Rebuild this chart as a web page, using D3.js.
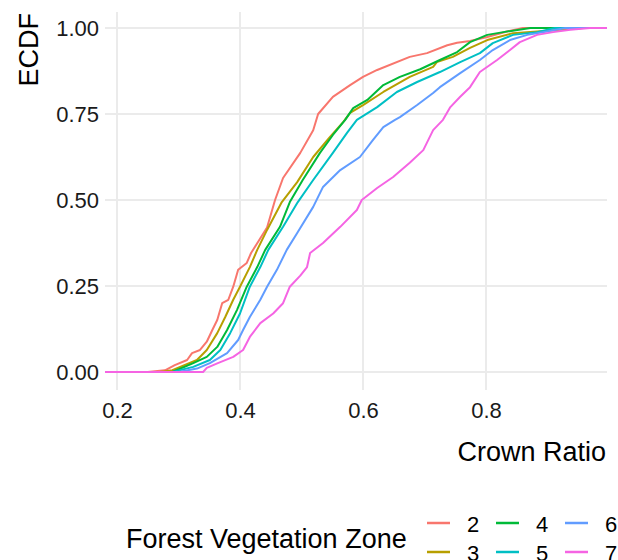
<!DOCTYPE html>
<html>
<head>
<meta charset="utf-8">
<script src="https://cdn.jsdelivr.net/npm/d3@7"></script>
<style>
  body { margin: 0; background: #fff; }
  svg { display: block; font-family: "Liberation Sans", Arial, sans-serif; }
</style>
</head>
<body>
<div id="chart"></div>
<script>
// ECDF of crown ratio by forest vegetation zone
// each series: [crown ratio, ecdf] knots

const zones = ['2', '3', '4', '5', '6', '7'];
const zoneColors = ['#F8766D', '#B79F00', '#00BA38', '#00BFC4', '#619CFF', '#F564E3'];

const zone2 = [[0.25, 0], [0.278, 0.005], [0.294, 0.02], [0.314, 0.035], [0.322, 0.055], [0.335, 0.064],
  [0.346, 0.088], [0.355, 0.122], [0.363, 0.151], [0.371, 0.2], [0.381, 0.21], [0.389, 0.248],
  [0.397, 0.297], [0.411, 0.317], [0.418, 0.346], [0.444, 0.42], [0.457, 0.5], [0.47, 0.564],
  [0.498, 0.637], [0.519, 0.703], [0.527, 0.75], [0.551, 0.8], [0.579, 0.834], [0.6, 0.858],
  [0.623, 0.878], [0.676, 0.916], [0.704, 0.927], [0.737, 0.95], [0.753, 0.957], [0.774, 0.962],
  [0.802, 0.974], [0.834, 0.99], [0.86, 1]];

const zone3 = [[0.27, 0], [0.29, 0.005], [0.33, 0.035], [0.346, 0.064], [0.363, 0.113], [0.376, 0.16],
  [0.389, 0.21], [0.4, 0.248], [0.416, 0.305], [0.428, 0.355], [0.444, 0.413], [0.468, 0.494],
  [0.493, 0.552], [0.519, 0.625], [0.546, 0.683], [0.568, 0.727], [0.579, 0.753], [0.6, 0.776],
  [0.633, 0.814], [0.676, 0.858], [0.714, 0.887], [0.72, 0.901], [0.746, 0.916], [0.774, 0.942],
  [0.802, 0.965], [0.844, 0.985], [0.883, 0.99], [0.958, 1]];

const zone4 = [[0.29, 0], [0.324, 0.026], [0.346, 0.044], [0.363, 0.073], [0.379, 0.122], [0.395, 0.18],
  [0.411, 0.248], [0.428, 0.305], [0.441, 0.355], [0.465, 0.422], [0.481, 0.494], [0.502, 0.558],
  [0.53, 0.637], [0.551, 0.689], [0.571, 0.733], [0.584, 0.767], [0.607, 0.791], [0.633, 0.834],
  [0.66, 0.858], [0.693, 0.88], [0.725, 0.907], [0.753, 0.93], [0.774, 0.959], [0.802, 0.98],
  [0.828, 0.988], [0.872, 1]];

const zone5 = [[0.29, 0], [0.324, 0.015], [0.351, 0.035], [0.368, 0.064], [0.384, 0.113], [0.4, 0.17],
  [0.416, 0.248], [0.433, 0.305], [0.446, 0.355], [0.47, 0.422], [0.494, 0.494], [0.519, 0.558],
  [0.551, 0.637], [0.574, 0.695], [0.59, 0.733], [0.623, 0.77], [0.655, 0.814], [0.688, 0.843],
  [0.725, 0.872], [0.758, 0.901], [0.79, 0.927], [0.811, 0.956], [0.844, 0.98], [0.883, 0.988],
  [0.912, 1]];

const zone6 = [[0.3, 0], [0.33, 0.01], [0.351, 0.026], [0.379, 0.055], [0.397, 0.093], [0.405, 0.122],
  [0.416, 0.16], [0.433, 0.21], [0.444, 0.248], [0.46, 0.297], [0.476, 0.355], [0.493, 0.404],
  [0.519, 0.48], [0.535, 0.538], [0.563, 0.587], [0.595, 0.625], [0.616, 0.674], [0.633, 0.712],
  [0.652, 0.733], [0.66, 0.741], [0.688, 0.776], [0.714, 0.811], [0.725, 0.828], [0.758, 0.869],
  [0.79, 0.907], [0.811, 0.936], [0.839, 0.965], [0.867, 0.98], [0.899, 0.99], [0.929, 1]];

const zone7 = [[0.34, 0], [0.346, 0.012], [0.363, 0.025], [0.389, 0.044], [0.405, 0.064], [0.416, 0.102],
  [0.433, 0.142], [0.454, 0.17], [0.47, 0.2], [0.481, 0.248], [0.498, 0.28], [0.509, 0.305],
  [0.514, 0.346], [0.535, 0.375], [0.563, 0.422], [0.59, 0.471], [0.598, 0.5], [0.623, 0.535],
  [0.649, 0.567], [0.676, 0.608], [0.698, 0.645], [0.714, 0.703], [0.73, 0.733], [0.742, 0.77],
  [0.758, 0.8], [0.774, 0.828], [0.79, 0.872], [0.818, 0.907], [0.839, 0.936], [0.855, 0.959],
  [0.883, 0.98], [0.909, 0.988], [0.937, 0.995], [0.969, 1]];

const seriesData = [zone2, zone3, zone4, zone5, zone6, zone7];

const xTicks = [0.2, 0.4, 0.6, 0.8];
const yTicks = [0, 0.25, 0.5, 0.75, 1];

const width = 618, height = 560;
const panel = { left: 105, right: 607, top: 12, bottom: 390 };

const svg = d3.select('#chart').append('svg')
  .attr('width', width)
  .attr('height', height);

const x = d3.scaleLinear().domain([0.1805, 0.9967]).range([panel.left, panel.right]);
const y = d3.scaleLinear().domain([-0.0523, 1.0465]).range([panel.bottom, panel.top]);

// grid
const grid = svg.append('g').attr('stroke', '#EBEBEB').attr('stroke-width', 2);
grid.selectAll('line.gx').data(xTicks).enter().append('line')
  .attr('x1', d => x(d)).attr('x2', d => x(d))
  .attr('y1', panel.top).attr('y2', panel.bottom);
grid.selectAll('line.gy').data(yTicks).enter().append('line')
  .attr('y1', d => y(d)).attr('y2', d => y(d))
  .attr('x1', panel.left).attr('x2', panel.right);

// axes (text only, theme_minimal style)
const xAxis = svg.append('g')
  .attr('transform', `translate(0,${panel.bottom})`)
  .call(d3.axisBottom(x).tickValues(xTicks).tickFormat(d3.format('.1f')).tickSize(0).tickPadding(12));
const yAxis = svg.append('g')
  .attr('transform', `translate(${panel.left},0)`)
  .call(d3.axisLeft(y).tickValues(yTicks).tickFormat(d3.format('.2f')).tickSize(0).tickPadding(6));
[xAxis, yAxis].forEach(a => {
  a.select('.domain').remove();
  a.selectAll('text').attr('font-size', 22).attr('fill', '#1a1a1a')
    .attr('font-family', '"Liberation Sans", Arial, sans-serif');
});

// ecdf lines, padded to the panel edges like stat_ecdf
const line = d3.line().x(d => x(d[0])).y(d => y(d[1])).curve(d3.curveLinear);
const xLo = x.domain()[0], xHi = x.domain()[1];

svg.append('g').selectAll('path')
  .data(seriesData)
  .enter().append('path')
  .attr('d', d => line([[xLo, 0], ...d, [xHi, 1]]))
  .attr('fill', 'none')
  .attr('stroke', (d, i) => zoneColors[i])
  .attr('stroke-width', 2)
  .attr('stroke-linejoin', 'round');

// axis titles
svg.append('text')
  .attr('x', 606).attr('y', 461)
  .attr('text-anchor', 'end')
  .attr('font-size', 27)
  .text('Crown Ratio');

svg.append('text')
  .attr('transform', 'translate(38,13) rotate(-90)')
  .attr('text-anchor', 'end')
  .attr('font-size', 27)
  .text('ECDF');

// legend
const legend = svg.append('g');
legend.append('text')
  .attr('x', 126).attr('y', 548)
  .attr('font-size', 27)
  .text('Forest Vegetation Zone');

const keys = legend.selectAll('g.key').data(zones).enter().append('g')
  .attr('class', 'key')
  .attr('transform', (d, i) => `translate(${427 + Math.floor(i / 2) * 69},${523 + (i % 2) * 29})`);
keys.append('line')
  .attr('x1', 0).attr('x2', 23)
  .attr('stroke', (d, i) => zoneColors[i])
  .attr('stroke-width', 2.5);
keys.append('text')
  .attr('x', 40).attr('y', 9)
  .attr('font-size', 22)
  .text(d => d);
</script>
</body>
</html>
